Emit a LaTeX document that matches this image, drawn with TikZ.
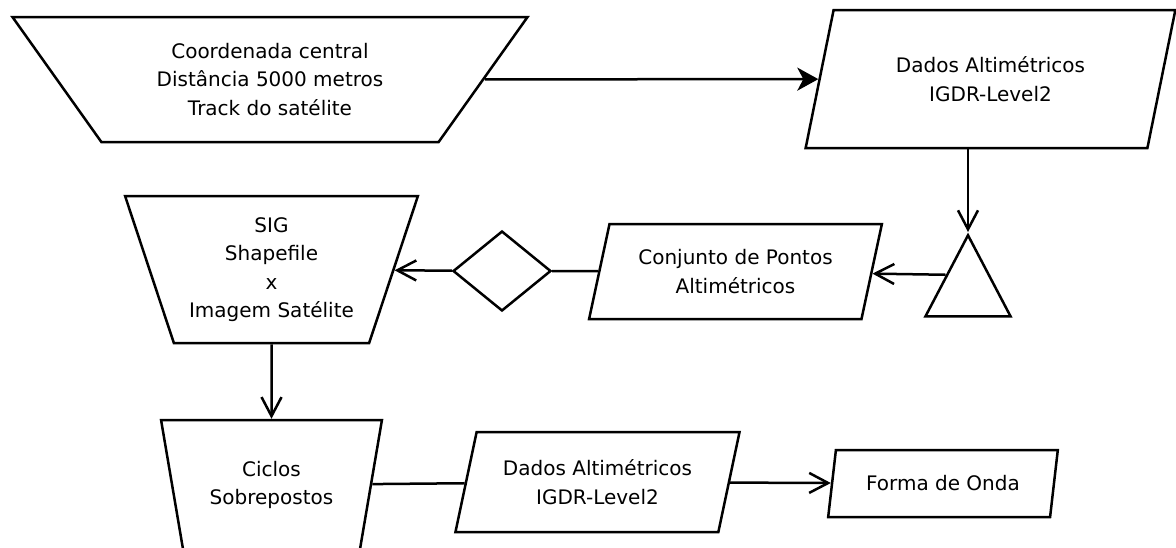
\documentclass[tikz,border=0pt]{standalone}
\usepackage{fontspec}
\setmainfont{DejaVu Sans}
\usetikzlibrary{arrows.meta,positioning,shapes.geometric}

\begin{document}
\begin{tikzpicture}[x=1pt, y=-1pt, line width=2.5pt,
  every node/.style={font=\fontsize{20}{28.5}\selectfont, align=center,
    inner sep=0pt},
  manual/.style={draw, trapezium, trapezium stretches=true,
    shape border rotate=180},
  io/.style={draw, trapezium, trapezium stretches=true},
  arr/.style={-{Straight Barb[length=19pt, width=20pt]}},
  fillarr/.style={-{Stealth[length=21pt, width=23pt, inset=6pt]}}]
\useasboundingbox (0,0) rectangle (1176,547);

% first row
\node[manual, trapezium angle=50.5, minimum width=516pt,
  minimum height=125pt] (coord) at (270,79.5)
  {Coordenada central\\Distância 5000 metros\\Track do satélite};
\node[io, trapezium left angle=69.4, trapezium right angle=110.6,
  minimum width=370pt, minimum height=138pt] (dados1) at (990.5,79)
  {Dados Altimétricos\\IGDR-Level2};

% second row
\node[draw, isosceles triangle, isosceles triangle stretches,
  shape border rotate=90, minimum width=85pt, minimum height=81pt,
  anchor=apex] (tri) at (968,232) {};
\node[io, trapezium left angle=70.3, trapezium right angle=109.7,
  minimum width=293pt, minimum height=95pt] (conj) at (735.5,271.5)
  {Conjunto de Pontos\\Altimétricos};
\node[draw, diamond, minimum width=98pt, minimum height=80pt]
  (dia) at (502,271) {};
\node[manual, trapezium angle=68.5, minimum width=293pt,
  minimum height=147pt] (sig) at (271.5,269.5)
  {SIG\\Shapefile\\x\\Imagem Satélite};

% third row
\node[manual, trapezium angle=72.1, minimum width=221pt,
  minimum height=130pt, below=74.5pt of sig] (ciclos)
  {Ciclos\\Sobrepostos};
\node[io, trapezium left angle=69.7, trapezium right angle=110.3,
  minimum width=285pt, minimum height=100pt] (dados2) at (597.5,482)
  {Dados Altimétricos\\IGDR-Level2};
\node[io, trapezium left angle=70.3, trapezium right angle=109.7,
  minimum width=230pt, minimum height=67pt] (forma) at (943,483.5)
  {Forma de Onda};

\draw[fillarr] (coord) -- (dados1);
\draw[arr] (tri.apex |- dados1.south) -- (tri.apex);
\draw[arr] (tri.left side) -- (conj);
\draw (conj) -- (dia);
\draw[arr] (dia) -- (sig);
\draw[arr] (sig) -- (ciclos);
\draw (ciclos) -- (dados2);
\draw[arr] (dados2) -- (forma);
\end{tikzpicture}
\end{document}
